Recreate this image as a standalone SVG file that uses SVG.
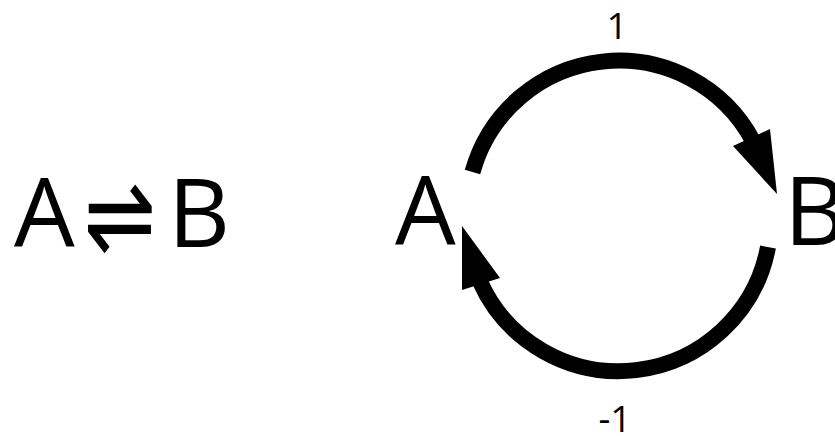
<svg xmlns="http://www.w3.org/2000/svg" width="835" height="436" viewBox="0 0 835 436">
  <style>
    .lbl { font-family: "Open Sans", "Noto Sans", "Liberation Sans", sans-serif; fill: #000; }
    .big { font-size: 96px; }
    .num { font-size: 37px; }
    .sym { font-family: "DejaVu Sans", sans-serif; font-size: 100px; fill: #000; }
    .arc { fill: none; stroke: #000; stroke-width: 16; stroke-linecap: butt; }
    .head { fill: #000; stroke: none; }
  </style>
  <rect width="835" height="436" fill="#fff"/>

  <!-- equilibrium equation -->
  <g id="equation">
    <text class="lbl big" x="14" y="247">A</text>
    <text class="sym" x="120" y="250" text-anchor="middle" transform="translate(120 220) scale(0.86 1.12) translate(-120 -220)">⇌</text>
    <text class="lbl big" x="168" y="247">B</text>
  </g>

  <!-- cycle nodes -->
  <g id="nodeA">
    <text class="lbl big" x="395" y="245">A</text>
  </g>
  <g id="nodeB">
    <text class="lbl big" x="784" y="245">B</text>
  </g>

  <!-- connectors -->
  <g id="connectors">
    <g id="forward">
      <path class="arc" d="M 472.5 172 A 152 152 0 0 1 753 141"/>
      <polygon class="head" points="777,194 733,146 770,129"/>
      <text class="lbl num" x="617" y="39" text-anchor="middle">1</text>
    </g>
    <g id="reverse">
      <path class="arc" d="M 768 247 A 152 152 0 0 1 479.5 280.5"/>
      <polygon class="head" points="462,226 462,290 500,278"/>
      <text class="lbl num" x="615" y="432" text-anchor="middle">-1</text>
    </g>
  </g>
</svg>
